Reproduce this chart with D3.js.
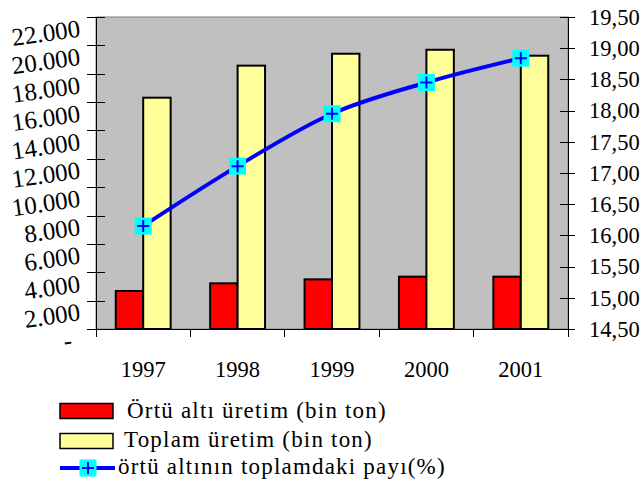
<!DOCTYPE html>
<html lang="tr">
<head>
  <meta charset="UTF-8">
  <title>Örtü altı üretim</title>
  <script src="https://cdn.jsdelivr.net/npm/d3@7/dist/d3.min.js"></script>
  <style>
  body{
    margin: 0;
    background: #fff;
  }
  svg text{
    font-family: 'Liberation Serif', 'Times New Roman', serif;
    fill: #000;
  }
  .ejeIzq text{
    font-size: 25px;
  }
  .ejeDer text{
    font-size: 22.5px;
  }
  .anios{
    font-size: 22.5px;
  }
  .leyenda{
    font-size: 23px;
    letter-spacing: 1.2px;
  }
  .ejeIzq path, .ejeDer path, .ejeIzq line, .ejeDer line{
    stroke: #000;
    shape-rendering: crispEdges;
  }
  </style>
</head>
<body>
  <div id="grafico"></div>

  <script>
    // datos
    var anios = ["1997", "1998", "1999", "2000", "2001"];
    var ortuAlti = [2680, 3220, 3500, 3690, 3690];
    var toplam = [16310, 18570, 19410, 19690, 19270];
    var pay = [16.15, 17.11, 17.95, 18.45, 18.84];
    var ticksIzq = [0, 2000, 4000, 6000, 8000, 10000, 12000, 14000, 16000, 18000, 20000, 22000];
    var ticksDer = [14.5, 15, 15.5, 16, 16.5, 17, 17.5, 18, 18.5, 19, 19.5];
    var nombres = ["Örtü altı üretim (bin ton)", "Toplam üretim (bin ton)", "örtü altının toplamdaki payı(%)"];

    var w = 643;
    var h = 482;
    var izq = 96, der = 568, arriba = 17, abajo = 329;
    var colores = ["#ff0000", "#ffff99"];

    var tr = d3.formatLocale({decimal: ",", thousands: ".", grouping: [3], currency: ["", ""]});
    var fmtIzq = tr.format(",.0f");
    var fmtDer = tr.format(".2f");

    var svg = d3.select("#grafico")
      .append("svg")
      .attr("width", w)
      .attr("height", h);

    //Escalas
    var x0 = d3.scaleBand()
      .domain(anios)
      .range([izq, der])
      .padding(0);

    var x1 = d3.scaleBand()
      .domain([0, 1])
      .range([0, x0.bandwidth()])
      .paddingInner(0)
      .paddingOuter(0.72);

    var yIzq = d3.scaleLinear()
      .domain([0, 22000])
      .range([abajo, arriba]);

    var yDer = d3.scaleLinear()
      .domain([14.5, 19.5])
      .range([abajo, arriba]);

    //Fondo gris
    svg.append("rect")
      .attr("x", izq)
      .attr("y", arriba)
      .attr("width", der - izq)
      .attr("height", abajo - arriba)
      .attr("fill", "#c0c0c0")
      .attr("stroke", "#808080")
      .attr("stroke-width", 1);

    //Barras
    var series = [ortuAlti, toplam];
    series.forEach(function(valores, s){
      svg.append("g").selectAll("rect")
        .data(valores)
        .enter()
        .append("rect")
        .attr("x", function(d, i){ return x0(anios[i]) + x1(s); })
        .attr("y", function(d){ return yIzq(d); })
        .attr("width", x1.bandwidth())
        .attr("height", function(d){ return abajo - yIzq(d); })
        .attr("fill", colores[s])
        .attr("stroke", "#000")
        .attr("stroke-width", 2);
    });

    //Eje izquierdo
    var ejeIzq = svg.append("g")
      .attr("class", "ejeIzq")
      .attr("transform", "translate(" + izq + ",0)")
      .call(d3.axisLeft(yIzq)
        .tickValues(ticksIzq)
        .tickSize(9)
        .tickSizeOuter(0)
        .tickFormat(function(d){ return d === 0 ? "-" : fmtIzq(d); }));
    ejeIzq.select(".domain").attr("d", "M0," + arriba + "V" + (abajo + 8));
    ejeIzq.selectAll(".tick line").attr("x1", 9);
    ejeIzq.selectAll(".tick text")
      .attr("x", function(d){ return d === 0 ? -24 : -16; })
      .attr("y", 11)
      .attr("dy", "0.32em")
      .attr("transform", function(d){
        return "rotate(-8," + (d === 0 ? -24 : -16) + ",11)"; });

    //Eje derecho
    var ejeDer = svg.append("g")
      .attr("class", "ejeDer")
      .attr("transform", "translate(" + der + ",0)")
      .call(d3.axisRight(yDer)
        .tickValues(ticksDer)
        .tickSize(7)
        .tickSizeOuter(0)
        .tickFormat(fmtDer));
    ejeDer.selectAll(".tick line").attr("x1", -8);
    ejeDer.selectAll(".tick text").attr("x", 21);

    //Eje X
    var limites = anios.map(function(d){ return x0(d); }).concat([der]);
    svg.append("line")
      .attr("x1", izq).attr("x2", der)
      .attr("y1", abajo).attr("y2", abajo)
      .attr("stroke", "#000")
      .attr("shape-rendering", "crispEdges");
    svg.append("g").selectAll("line")
      .data(limites)
      .enter()
      .append("line")
      .attr("x1", function(d){ return d; })
      .attr("x2", function(d){ return d; })
      .attr("y1", abajo)
      .attr("y2", abajo + 8)
      .attr("stroke", "#000")
      .attr("shape-rendering", "crispEdges");
    svg.append("g").selectAll("text")
      .data(anios)
      .enter()
      .append("text")
      .attr("class", "anios")
      .attr("x", function(d){ return x0(d) + x0.bandwidth() / 2; })
      .attr("y", abajo + 48)
      .attr("text-anchor", "middle")
      .text(function(d){ return d; });

    //Linea del porcentaje
    var linea = d3.line()
      .x(function(d, i){ return x0(anios[i]) + x0.bandwidth() / 2; })
      .y(function(d){ return yDer(d); })
      .curve(d3.curveCatmullRom);

    svg.append("path")
      .datum(pay)
      .attr("d", linea)
      .attr("fill", "none")
      .attr("stroke", "#0000ff")
      .attr("stroke-width", 4);

    function marcador(g){
      g.append("rect")
        .attr("x", -8.5).attr("y", -8.5)
        .attr("width", 17).attr("height", 17)
        .attr("fill", "#00ffff");
      g.append("path")
        .attr("d", "M-6,0H6M0,-6V6")
        .attr("stroke", "#0000ff")
        .attr("stroke-width", 2);
    }

    svg.append("g").selectAll("g")
      .data(pay)
      .enter()
      .append("g")
      .attr("transform", function(d, i){
        return "translate(" + (x0(anios[i]) + x0.bandwidth() / 2) + "," + yDer(d) + ")"; })
      .each(function(){ marcador(d3.select(this)); });

    //Leyenda
    var ley = svg.append("g");
    [0, 1].forEach(function(s){
      ley.append("rect")
        .attr("x", 60)
        .attr("y", 403.5 + s * 30)
        .attr("width", 53)
        .attr("height", 15)
        .attr("fill", colores[s])
        .attr("stroke", "#000")
        .attr("stroke-width", 1.5);
    });
    ley.append("line")
      .attr("x1", 60).attr("x2", 115)
      .attr("y1", 468).attr("y2", 468)
      .attr("stroke", "#0000ff")
      .attr("stroke-width", 4);
    marcador(ley.append("g").attr("transform", "translate(88,468)"));

    var xTexto = [127, 124, 118];
    var yTexto = [418, 447, 474];
    ley.selectAll("text")
      .data(nombres)
      .enter()
      .append("text")
      .attr("class", "leyenda")
      .attr("x", function(d, i){ return xTexto[i]; })
      .attr("y", function(d, i){ return yTexto[i]; })
      .text(function(d){ return d; });
  </script>
</body>
</html>
